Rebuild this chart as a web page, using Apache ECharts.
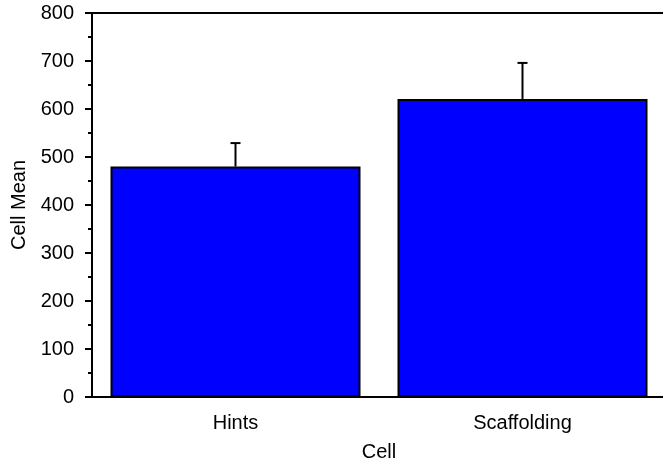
<!DOCTYPE html>
<html><head><meta charset="utf-8">
<script src="https://cdn.jsdelivr.net/npm/echarts@6/dist/echarts.min.js"></script>
<style>html,body{margin:0;padding:0;background:#fff}#c{width:663px;height:465px}</style>
</head><body><div id="c"></div>
<script>
const categories = ['Hints', 'Scaffolding'];
const means = [480, 621];
const errTops = [529, 696];
const yTicks = [0, 100, 200, 300, 400, 500, 600, 700, 800];

const chart = echarts.init(document.getElementById('c'), null, {renderer: 'canvas'});
const font = 'Liberation Sans, Arial, sans-serif';
const fs = 20;
chart.setOption({
  animation: false,
  grid: {left: 92, top: 13, width: 574, height: 384, containLabel: false, outerBoundsMode: 'none'},
  xAxis: [{
    type: 'category', data: categories, position: 'bottom',
    name: 'Cell', nameLocation: 'middle', nameGap: 45,
    nameTextStyle: {color: '#000', fontFamily: font, fontSize: fs},
    axisLine: {lineStyle: {color: '#000', width: 2}},
    axisTick: {alignWithLabel: true, length: 4, lineStyle: {color: '#000', width: 2}},
    axisLabel: {color: '#000', fontFamily: font, fontSize: fs, margin: 16}
  }, {
    type: 'category', data: categories, position: 'top',
    axisLine: {lineStyle: {color: '#000', width: 2}},
    axisTick: {alignWithLabel: true, length: 4, lineStyle: {color: '#000', width: 2}},
    axisLabel: {show: false}
  }],
  yAxis: {
    type: 'value', min: yTicks[0], max: yTicks[yTicks.length - 1], interval: 100,
    name: 'Cell Mean', nameLocation: 'middle', nameGap: 55, nameRotate: 90,
    nameTextStyle: {color: '#000', fontFamily: font, fontSize: fs},
    axisLine: {show: true, lineStyle: {color: '#000', width: 2}},
    axisTick: {show: true, length: 7, lineStyle: {color: '#000', width: 2}},
    minorTick: {show: true, splitNumber: 2, length: 4, lineStyle: {color: '#000', width: 2}},
    splitLine: {show: false},
    axisLabel: {color: '#000', fontFamily: font, fontSize: fs, margin: 18}
  },
  series: [{
    type: 'bar', data: means, barWidth: 250,
    itemStyle: {color: '#0000ff', borderColor: '#000', borderWidth: 2}
  }, {
    type: 'custom', z: 10,
    data: means.map((m, i) => [i, m, errTops[i]]),
    renderItem: function (params, api) {
      const i = api.value(0);
      const base = api.coord([i, api.value(1)]);
      const top = api.coord([i, api.value(2)]);
      const half = 5;
      return {type: 'group', children: [
        {type: 'line', shape: {x1: base[0], y1: base[1], x2: top[0], y2: top[1]}, style: {stroke: '#000', lineWidth: 2}},
        {type: 'line', shape: {x1: top[0] - half, y1: top[1], x2: top[0] + half, y2: top[1]}, style: {stroke: '#000', lineWidth: 2}}
      ]};
    }
  }]
});
</script></body></html>
